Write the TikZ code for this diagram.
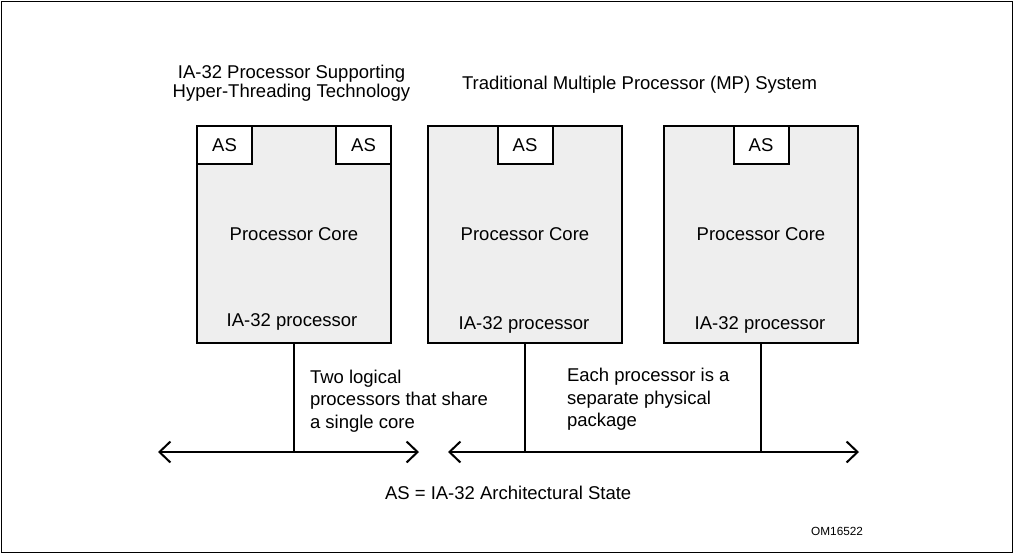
\documentclass[tikz,border=0pt]{standalone}
\usepackage{fontspec}
\setmainfont{Liberation Sans}
\usetikzlibrary{arrows.meta}
\definecolor{corefill}{HTML}{EEEEEE}
\tikzset{
  procbox/.style={draw, line width=2pt, fill=corefill, rectangle, inner sep=0pt, outer sep=0pt,
    minimum width=194pt, minimum height=217pt},
  asbox/.style={draw, line width=2pt, fill=white, rectangle, inner sep=0pt, outer sep=0pt,
    minimum width=55pt, minimum height=38pt, font=\fontsize{18.5}{22}\selectfont},
  lbl/.style={inner sep=0pt, outer sep=0pt, font=\fontsize{18.5}{22.4}\selectfont, anchor=base},
  wire/.style={line width=2pt},
  bus/.style={line width=2pt, {Straight Barb[length=11pt,width=21pt,line width=2pt]}-{Straight Barb[length=11pt,width=21pt,line width=2pt]}},
}
\begin{document}
\begin{tikzpicture}[x=1pt,y=-1pt]
\useasboundingbox (0,0) rectangle (1015,555);
\draw[line width=1.6pt] (1.5,1.5) rectangle (1012.5,552.5);

% titles (base = baseline of last line)
\node[lbl, align=center, anchor=base, font=\fontsize{18.5}{19.6}\selectfont] (t1) at (291.5,97.8)
  {IA-32 Processor Supporting\\Hyper-Threading Technology};
\node[lbl, anchor=base west] (t2) at (462,89.3) {Traditional Multiple Processor (MP) System};

% processors
\node[procbox] (p1) at (294,234.5) {};
\node[procbox] (p2) at (525,234.5) {};
\node[procbox] (p3) at (761,234.5) {};

\node[asbox, anchor=north west] (as1a) at (p1.north west) {AS};
\node[asbox, anchor=north east] (as1b) at (p1.north east) {AS};
\node[asbox, anchor=north] (as2) at (p2.north) {AS};
\node[asbox, anchor=north] (as3) at (p3.north) {AS};

\node[lbl] (c1) at (294,240.7) {Processor Core};
\node[lbl] (c2) at (525,240.7) {Processor Core};
\node[lbl] (c3) at (761,240.7) {Processor Core};
\node[lbl] (i1) at (292,326) {IA-32 processor};
\node[lbl] (i2) at (524,329.3) {IA-32 processor};
\node[lbl] (i3) at (760,329.3) {IA-32 processor};

% buses
\coordinate (b1l) at (158,452);
\coordinate (b1r) at (419,452);
\coordinate (b2l) at (448,452);
\coordinate (b2r) at (859,452);
\draw[bus] (b1l) -- (b1r);
\draw[bus] (b2l) -- (b2r);
\draw[wire] (p1.south) -- (p1.south |- b1l);
\draw[wire] (p2.south) -- (p2.south |- b2l);
\draw[wire] (p3.south) -- (p3.south |- b2l);

% notes (base = baseline of last line)
\node[lbl, anchor=base west, align=left] (n1) at (310,428.3)
  {Two logical\\processors that share\\a single core};
\node[lbl, anchor=base west, align=left] (n2) at (567,426.7)
  {Each processor is a\\separate physical\\package};
\node[lbl, anchor=base west] (leg) at (385,499) {AS = IA-32 Architectural State};
\node[lbl, anchor=base east, font=\fontsize{11.8}{14}\selectfont] (om) at (863,535) {OM16522};
\end{tikzpicture}
\end{document}
